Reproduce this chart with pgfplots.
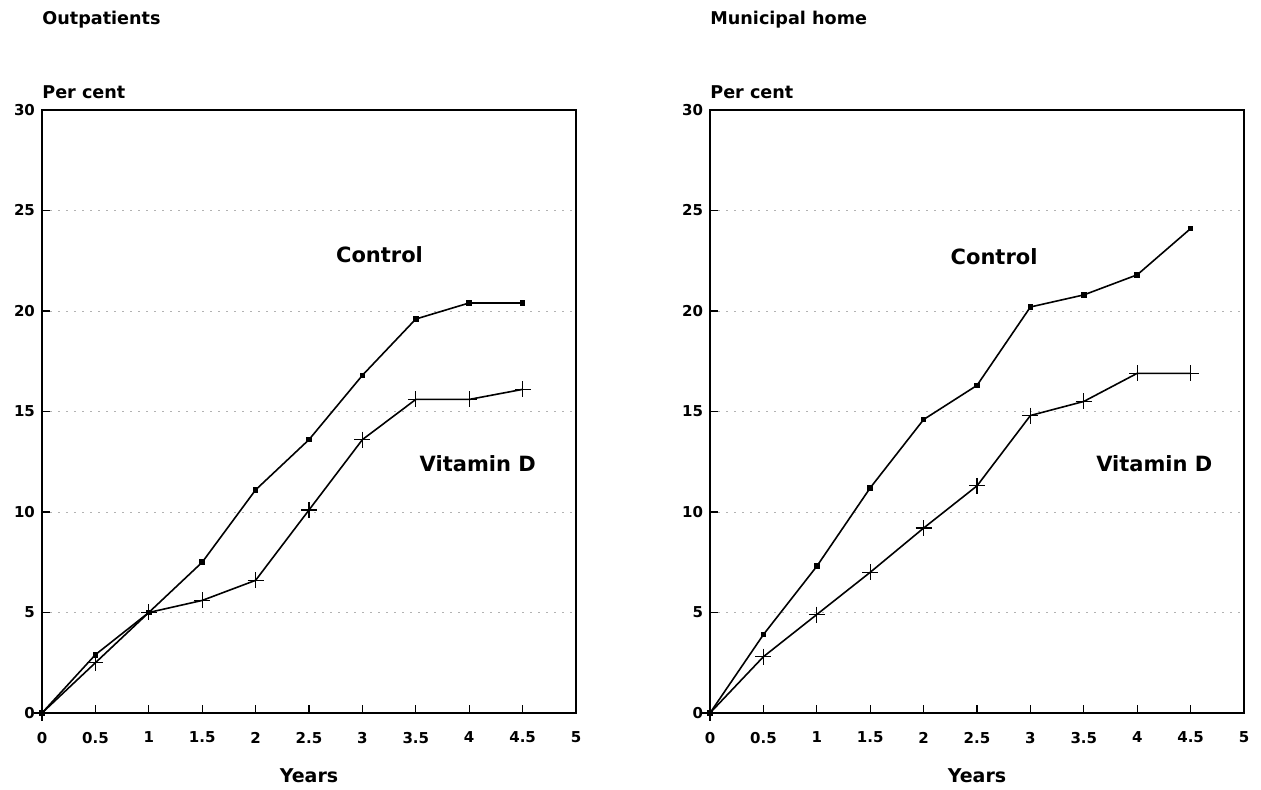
\documentclass[border=0pt]{standalone}
\usepackage{pgfplots}
\pgfplotsset{compat=1.18}
\usepackage{fontspec}
\setmainfont{DejaVu Sans}

\pgfplotstableread{
x    ctrl  vitd
0    0     0
0.5  2.9   2.5
1    5.0   5.0
1.5  7.5   5.6
2    11.1  6.6
2.5  13.6  10.1
3    16.8  13.6
3.5  19.6  15.6
4    20.4  15.6
4.5  20.4  16.1
}\outpatients

\pgfplotstableread{
x    ctrl  vitd
0    0     0
0.5  3.9   2.8
1    7.3   4.9
1.5  11.2  7.0
2    14.6  9.2
2.5  16.3  11.3
3    20.2  14.8
3.5  20.8  15.5
4    21.8  16.9
4.5  24.1  16.9
}\municipal

\tikzset{
  lbl/.style={font=\bfseries\fontsize{10.5}{12}\selectfont},
  ttl/.style={font=\bfseries\fontsize{8.8}{10}\selectfont, anchor=west, inner sep=0pt},
  ctrl/.style={black, line width=0.8pt, mark=square*, mark size=1pt},
  vitd/.style={black, line width=0.8pt, mark=+, mark size=4pt, mark options={line width=0.6pt}},
}

\pgfplotsset{
  panel/.style={
    scale only axis,
    width=267pt, height=301.5pt,
    anchor=south west,
    xmin=0, xmax=5, ymin=0, ymax=30,
    xtick={0,0.5,...,5},
    ytick={0,5,...,30},
    tick pos=left,
    tick align=inside,
    major tick length=4pt,
    tick style={black, line width=0.6pt},
    axis line style={line width=0.6pt},
    ymajorgrids,
    grid style={gray!60, line width=0.4pt, dash pattern=on 1pt off 3pt},
    ticklabel style={font=\bfseries\fontsize{7.5}{9}\selectfont},
    xticklabel style={yshift=-6pt},
    /pgf/number format/assume math mode=true,
    xlabel={Years},
    xlabel style={font=\bfseries\fontsize{9.5}{11}\selectfont, yshift=-6pt},
    clip=false,
  },
}

\begin{document}
\begin{tikzpicture}
\useasboundingbox (0,0) rectangle (630.5pt,395pt);
\begin{axis}[panel, at={(21pt,38.5pt)}]
  \addplot[ctrl] table[x=x, y=ctrl] {\outpatients};
  \addplot[vitd] table[x=x, y=vitd] {\outpatients};
  \node[lbl] at (axis cs:3.16,22.8) {Control};
  \node[lbl] at (axis cs:4.08,12.4) {Vitamin D};
  \node[ttl] at ([yshift=9pt]rel axis cs:0,1) {Per cent};
  \node[ttl] at ([yshift=45pt]rel axis cs:0,1) {Outpatients};
\end{axis}
\begin{axis}[panel, at={(355pt,38.5pt)}]
  \addplot[ctrl] table[x=x, y=ctrl] {\municipal};
  \addplot[vitd] table[x=x, y=vitd] {\municipal};
  \node[lbl] at (axis cs:2.66,22.7) {Control};
  \node[lbl] at (axis cs:4.16,12.4) {Vitamin D};
  \node[ttl] at ([yshift=9pt]rel axis cs:0,1) {Per cent};
  \node[ttl] at ([yshift=45pt]rel axis cs:0,1) {Municipal home};
\end{axis}
\end{tikzpicture}
\end{document}
